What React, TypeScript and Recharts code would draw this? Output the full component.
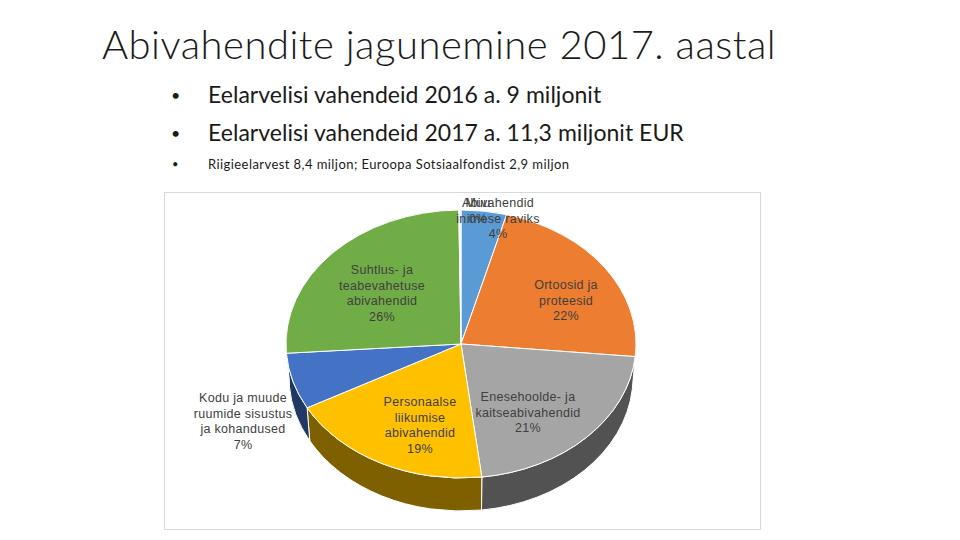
import React from 'react';
import { PieChart, Pie, Sector } from 'recharts';

const TITLE = 'Abivahendite jagunemine 2017. aastal';
const BULLETS = [
  'Eelarvelisi vahendeid 2016 a. 9 miljonit',
  'Eelarvelisi vahendeid 2017 a. 11,3 miljonit EUR',
  'Riigieelarvest 8,4 miljon; Euroopa Sotsiaalfondist 2,9 miljon',
];

const categories = [
  'Abivahendid inimese raviks',
  'Ortoosid ja proteesid',
  'Enesehoolde- ja kaitseabivahendid',
  'Personaalse liikumise abivahendid',
  'Kodu ja muude ruumide sisustus ja kohandused',
  'Suhtlus- ja teabevahetuse abivahendid',
  'Muu',
];
const values = [4.2, 22.3, 21.6, 19, 6.8, 25.9, 0.2];
const percentLabels = ['4%', '22%', '21%', '19%', '7%', '26%', '0%'];
const labelLines = [
  ['Abivahendid', 'inimese raviks', '4%'],
  ['Ortoosid ja', 'proteesid', '22%'],
  ['Enesehoolde- ja', 'kaitseabivahendid', '21%'],
  ['Personaalse', 'liikumise', 'abivahendid', '19%'],
  ['Kodu ja muude', 'ruumide sisustus', 'ja kohandused', '7%'],
  ['Suhtlus- ja', 'teabevahetuse', 'abivahendid', '26%'],
  ['Muu', '0%'],
];
const topColors = ['#5b9bd5', '#ed7d31', '#a5a5a5', '#ffc000', '#4472c4', '#70ad47', '#eef2f8'];
const sideColors = ['#2e5f8f', '#843c0c', '#525252', '#7f6000', '#203864', '#385723', '#1a2f55'];

const labelCenters = [
  [498, 207],
  [566, 289],
  [528, 401],
  [420, 406],
  [243, 402],
  [382, 274],
  [478, 207],
];

const data = categories.map((name, i) => ({ name, value: values[i], percent: percentLabels[i] }));

const CX = 461;
const CY = 344;
const RX = 175;
const RY = 134;
const DEPTH = 33;
const BOTTOM_RX = 172;
const SQUASH = RY / RX;

// recharts gives angles counter-clockwise from 3 o'clock, the rim needs clockwise from 12
const clockAngle = (a: number) => 90 - a;
const onEllipse = (deg: number, rx: number, cy: number) => {
  const r = (deg * Math.PI) / 180;
  return [CX + rx * Math.sin(r), cy - RY * Math.cos(r)];
};

const TopSlice = (props: any) => (
  <g transform={`translate(0 ${props.cy}) scale(1 ${SQUASH}) translate(0 ${-props.cy})`}>
    <Sector
      cx={props.cx}
      cy={props.cy}
      innerRadius={0}
      outerRadius={props.outerRadius}
      startAngle={props.startAngle}
      endAngle={props.endAngle}
      fill={topColors[props.index]}
      stroke="#ffffff"
      strokeWidth={1}
      vectorEffect="non-scaling-stroke"
    />
  </g>
);

const SideSlice = (props: any) => {
  const a0 = Math.max(clockAngle(props.startAngle), 90);
  const a1 = Math.min(clockAngle(props.endAngle), 270);
  if (a1 <= a0) return <g />;
  const [x0, y0] = onEllipse(a0, RX, CY);
  const [x1, y1] = onEllipse(a1, RX, CY);
  const [x2, y2] = onEllipse(a1, BOTTOM_RX, CY + DEPTH);
  const [x3, y3] = onEllipse(a0, BOTTOM_RX, CY + DEPTH);
  const d = `M${x0} ${y0}A${RX} ${RY} 0 0 1 ${x1} ${y1}L${x2} ${y2}A${BOTTOM_RX} ${RY} 0 0 0 ${x3} ${y3}Z`;
  return <path d={d} fill={sideColors[props.index]} stroke="#ffffff" strokeWidth={1} />;
};

const renderLabel = (props: any) => {
  const [x, y] = labelCenters[props.index];
  return (
    <text x={x} y={y} textAnchor="middle" fontFamily="Liberation Sans" fontSize={12.5} letterSpacing={0.3} fill="#404040">
      {labelLines[props.index].map((line, i) => (
        <tspan key={i} x={x} y={y + i * 15.6}>{line}</tspan>
      ))}
    </text>
  );
};

const textStyle: React.CSSProperties = {
  position: 'absolute',
  whiteSpace: 'nowrap',
  fontFamily: 'Lato',
  color: '#1a1a1a',
  lineHeight: 1,
};

export default function App() {
  return (
    <div style={{ position: 'absolute', left: 0, top: 0, width: 960, height: 540, background: '#ffffff', overflow: 'hidden' }}>
      <div style={{ ...textStyle, left: 102, top: 24, fontSize: 40, fontWeight: 300, letterSpacing: 0.5 }}>{TITLE}</div>
      <div style={{ ...textStyle, left: 171, top: 87, fontSize: 16 }}>•</div>
      <div style={{ ...textStyle, left: 208, top: 83, fontSize: 23, letterSpacing: 0.03 }}>{BULLETS[0]}</div>
      <div style={{ ...textStyle, left: 171, top: 125, fontSize: 16 }}>•</div>
      <div style={{ ...textStyle, left: 208, top: 121, fontSize: 23, letterSpacing: 0.03 }}>{BULLETS[1]}</div>
      <div style={{ ...textStyle, left: 172, top: 158, fontSize: 11 }}>•</div>
      <div style={{ ...textStyle, left: 208, top: 158, fontSize: 13, letterSpacing: 0.43 }}>{BULLETS[2]}</div>
      <div style={{ position: 'absolute', left: 164, top: 192, width: 595, height: 336, border: '1px solid #d9d9d9' }} />
      <div style={{ position: 'absolute', left: 0, top: 0 }}>
        <PieChart width={960} height={540} margin={{ top: 0, right: 0, bottom: 0, left: 0 }}>
          <Pie
            data={data}
            dataKey="value"
            cx={CX}
            cy={CY}
            outerRadius={RX}
            startAngle={90}
            endAngle={-270}
            shape={SideSlice}
            label={false}
            labelLine={false}
            isAnimationActive={false}
          />
          <Pie
            data={data}
            dataKey="value"
            cx={CX}
            cy={CY}
            outerRadius={RX}
            startAngle={90}
            endAngle={-270}
            shape={TopSlice}
            label={renderLabel}
            labelLine={false}
            isAnimationActive={false}
          />
        </PieChart>
      </div>
    </div>
  );
}
